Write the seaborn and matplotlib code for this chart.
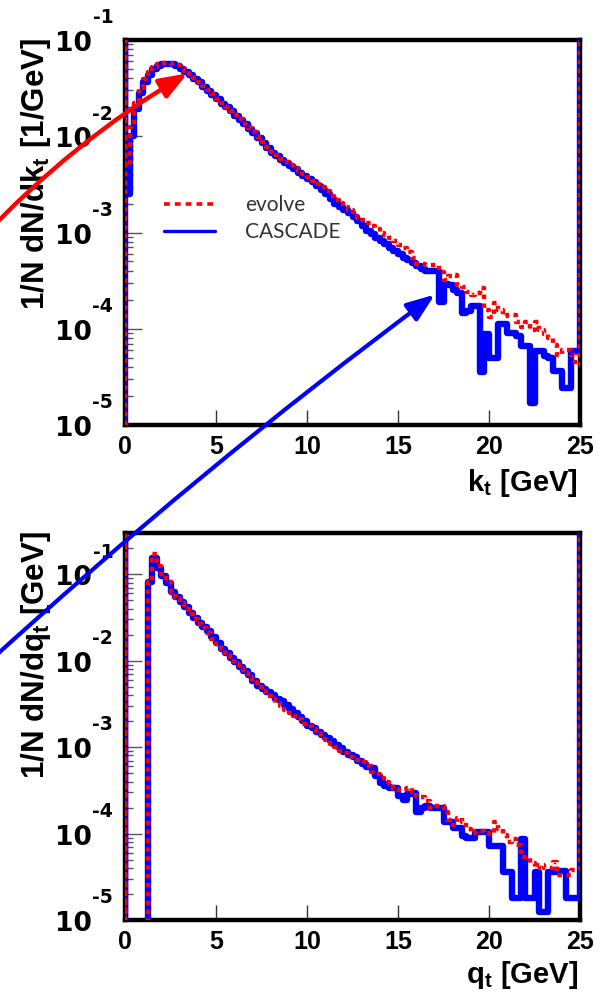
import numpy as np
import pandas as pd
import matplotlib
matplotlib.use("Agg")
import matplotlib.pyplot as plt
import seaborn as sns
from matplotlib.patches import FancyArrowPatch, ArrowStyle
from matplotlib.lines import Line2D
from matplotlib.ticker import FixedLocator, LogLocator, NullFormatter
from matplotlib.transforms import ScaledTranslation

# ---------------- data (log10 of 1/N dN/dx per 0.25 GeV bin, 0..25 GeV) ----------------
bin_width = 0.25
n_bins = 100

kt_cascade_log10 = [
    -2.60, -2.00, -1.72, -1.55, -1.44, -1.36, -1.30, -1.27, -1.25, -1.245,
    -1.25, -1.27, -1.30, -1.33, -1.36, -1.40, -1.44, -1.485, -1.53, -1.57,
    -1.615, -1.66, -1.70, -1.74, -1.785, -1.83, -1.875, -1.92, -1.97, -2.02,
    -2.07, -2.12, -2.17, -2.21, -2.245, -2.28, -2.31, -2.345, -2.38, -2.41,
    -2.44, -2.48, -2.52, -2.56, -2.60, -2.65, -2.70, -2.74, -2.77, -2.80,
    -2.84, -2.88, -2.93, -2.98, -3.02, -3.06, -3.09, -3.12, -3.16, -3.19,
    -3.22, -3.26, -3.29, -3.32, -3.35, -3.38, -3.40, -3.40, -3.40, -3.72,
    -3.53, -3.55, -3.60, -3.63, -3.84, -3.82, -3.76, -3.76, -4.45, -4.05,
    -4.30, -4.30, -3.95, -3.95, -4.04, -4.04, -4.08, -4.18, -4.18, -4.77,
    -4.23, -4.23, -4.28, -4.30, -4.44, -4.44, -4.62, -4.62, -4.23, -4.23,
]
kt_evolve_log10 = [
    -2.30, -1.90, -1.65, -1.50, -1.40, -1.33, -1.28, -1.25, -1.24, -1.24,
    -1.245, -1.26, -1.29, -1.32, -1.355, -1.395, -1.435, -1.48, -1.52, -1.565,
    -1.61, -1.65, -1.695, -1.735, -1.78, -1.82, -1.87, -1.91, -1.96, -2.01,
    -2.06, -2.11, -2.16, -2.19, -2.235, -2.265, -2.30, -2.33, -2.36, -2.39,
    -2.425, -2.46, -2.50, -2.53, -2.57, -2.62, -2.66, -2.69, -2.73, -2.77,
    -2.79, -2.85, -2.87, -2.90, -2.93, -2.96, -3.00, -3.03, -3.06, -3.09,
    -3.13, -3.16, -3.20, -3.26, -3.33, -3.33, -3.34, -3.34, -3.34, -3.41,
    -3.49, -3.45, -3.44, -3.55, -3.57, -3.62, -3.65, -3.63, -3.58, -3.80,
    -3.88, -3.73, -3.80, -3.87, -3.86, -3.86, -3.93, -3.98, -3.93, -4.01,
    -3.93, -4.01, -4.05, -4.10, -4.17, -4.27, -4.22, -4.22, -4.27, -4.38,
]
# None = empty bin
qt_cascade_log10 = [
    None, None, None, None, None, -1.085, -0.81, -0.93, -1.02, -1.10,
    -1.21, -1.26, -1.32, -1.38, -1.45, -1.51, -1.56, -1.61, -1.66, -1.73,
    -1.80, -1.86, -1.91, -1.97, -2.02, -2.07, -2.12, -2.17, -2.23, -2.29,
    -2.33, -2.36, -2.40, -2.44, -2.47, -2.51, -2.56, -2.60, -2.65, -2.70,
    -2.75, -2.78, -2.82, -2.86, -2.90, -2.93, -2.97, -3.01, -3.06, -3.09,
    -3.12, -3.16, -3.20, -3.23, -3.24, -3.33, -3.41, -3.45, -3.47, -3.47,
    -3.56, -3.61, -3.54, -3.53, -3.75, -3.70, -3.68, -3.71, -3.71, -3.71,
    -3.87, -3.87, -3.93, -3.93, -4.03, -4.05, -4.05, -3.98, -3.98, -3.98,
    -4.14, -4.14, -4.14, -4.44, -4.44, -4.74, -4.74, -4.06, -4.74, -4.74,
    -4.45, -4.91, -4.91, -4.45, -4.45, -4.43, -4.43, -4.74, -4.74, -4.74,
]
qt_evolve_log10 = [
    None, None, None, None, None, -1.085, -0.77, -0.90, -1.00, -1.09,
    -1.22, -1.28, -1.33, -1.40, -1.46, -1.52, -1.57, -1.62, -1.68, -1.75,
    -1.81, -1.87, -1.93, -1.98, -2.04, -2.09, -2.14, -2.19, -2.25, -2.30,
    -2.35, -2.41, -2.44, -2.49, -2.52, -2.57, -2.60, -2.64, -2.68, -2.73,
    -2.76, -2.79, -2.85, -2.88, -2.92, -2.96, -3.00, -3.04, -3.07, -3.11,
    -3.13, -3.15, -3.17, -3.22, -3.29, -3.31, -3.36, -3.40, -3.43, -3.49,
    -3.50, -3.48, -3.47, -3.52, -3.57, -3.58, -3.62, -3.70, -3.68, -3.68,
    -3.75, -3.84, -3.90, -3.82, -3.87, -3.95, -3.99, -3.97, -3.97, -3.99,
    -4.01, -3.87, -3.95, -4.02, -4.10, -4.06, -4.13, -4.27, -4.27, -4.34,
    -4.40, -4.36, -4.40, -4.40, -4.33, -4.48, -4.48, -4.48, -4.42, -4.42,
]

series_labels = ["evolve", "CASCADE"]
x_ticks = [0, 5, 10, 15, 20, 25]
y_exponents = [-5, -4, -3, -2, -1]
top_ylim = (1e-5, 1e-1)
bottom_ylim = (1e-5, 0.30)

RED = "#ff0000"
BLUE = "#0000ff"

# ---------------- style ----------------
sns.set_theme(style="white")
plt.rcParams["font.family"] = ["Liberation Sans", "DejaVu Sans"]
plt.rcParams["mathtext.fontset"] = "custom"
plt.rcParams["mathtext.rm"] = "Liberation Sans:bold"
plt.rcParams["mathtext.it"] = "Liberation Sans:bold"
plt.rcParams["mathtext.bf"] = "Liberation Sans:bold"
for key in ["text.color", "axes.labelcolor", "xtick.color", "ytick.color",
            "xtick.labelcolor", "ytick.labelcolor"]:
    plt.rcParams[key] = "black"

W, H = 601, 993
fig = plt.figure(figsize=(W / 100, H / 100), dpi=100)


def fx(px):
    return px / W


def fy(py):
    return 1 - py / H


ax_top = fig.add_axes([fx(125), fy(425), fx(580) - fx(125), fy(40) - fy(425)])
ax_bot = fig.add_axes([fx(125), fy(920), fx(580) - fx(125), fy(533) - fy(920)])

edges = np.arange(n_bins + 1) * bin_width


def hist_frame(log_vals, ymax):
    vals = [0.0 if v is None else 10.0 ** v for v in log_vals]
    xs = [edges[0], edges[0]] + list(edges[:-1]) + [edges[-1], edges[-1]]
    ys = [0.0, ymax] + vals + [vals[-1], ymax]
    return pd.DataFrame({"x": xs, "y": ys})


def draw_panel(ax, evolve, cascade, ylim):
    d_c = hist_frame(cascade, ylim[1])
    d_e = hist_frame(evolve, ylim[1])
    sns.lineplot(data=d_c, x="x", y="y", ax=ax, estimator=None, sort=False,
                 drawstyle="steps-post", color=BLUE, lw=4.6, zorder=3)
    sns.lineplot(data=d_e, x="x", y="y", ax=ax, estimator=None, sort=False,
                 drawstyle="steps-post", color=RED, lw=3.2,
                 linestyle=(0, (1.0, 1.0)), zorder=4)
    ax.set_yscale("log")
    ax.set_xlim(0, 25)
    ax.set_ylim(*ylim)
    ax.set_xlabel("")
    ax.set_ylabel("")
    ax.set_facecolor("white")
    for s in ["top", "bottom", "right", "left"]:
        ax.spines[s].set_visible(True)
        ax.spines[s].set_color("black")
        ax.spines[s].set_linewidth(3.2)
    ax.set_xticks(x_ticks, labels=[str(t) for t in x_ticks], fontweight="bold",
                  fontsize=18, color="black")
    ax.tick_params(axis="x", which="both", direction="in", length=11, width=1,
                   color="#333333", bottom=True, top=False, pad=7)
    ax.xaxis.set_minor_locator(FixedLocator([]))
    decades = [10.0 ** e for e in y_exponents]
    ax.set_yticks(decades, labels=["10"] * len(decades), fontweight="bold",
                  fontsize=19, fontfamily="DejaVu Sans", color="black")
    ax.yaxis.set_minor_locator(LogLocator(base=10, subs=np.arange(2, 10)))
    ax.yaxis.set_minor_formatter(NullFormatter())
    ax.tick_params(axis="y", which="major", direction="in", length=12, width=1,
                   color="#555555", left=True, right=False, pad=24)
    ax.tick_params(axis="y", which="minor", direction="in", length=6, width=1,
                   color="#555555", left=True, right=False)
    for lab in ax.get_yticklabels():
        lab.set_transform(lab.get_transform() + ScaledTranslation(0, -1 / 100, fig.dpi_scale_trans))
    for e in y_exponents:
        ax.annotate(str(e), xy=(0, 10.0 ** e), xycoords=("axes fraction", "data"),
                    xytext=(-8.5, 16), textcoords="offset points", ha="right", va="center",
                    fontsize=13.5, fontweight="bold", fontfamily="DejaVu Sans",
                    color="black", annotation_clip=False)


draw_panel(ax_top, kt_evolve_log10, kt_cascade_log10, top_ylim)
draw_panel(ax_bot, qt_evolve_log10, qt_cascade_log10, bottom_ylim)

# legend (top panel)
handles = [Line2D([], [], color=RED, lw=2.6, linestyle=(0, (1.6, 1.4))),
           Line2D([], [], color=BLUE, lw=2.4)]
leg = ax_top.legend(handles, series_labels, loc="upper left",
                    bbox_to_anchor=(0.045, 0.645), frameon=False,
                    handlelength=2.42, handletextpad=1.45, labelspacing=0.32,
                    prop={"family": "Lato", "weight": "normal", "size": 15})
for t in leg.get_texts():
    t.set_color("#333333")

# axis titles
fig.text(fx(36), fy(38), r"$\mathbf{1/N\ dN/dk_t\ [1/GeV]}$", rotation=90,
         ha="center", va="top", fontsize=22.5)
fig.text(fx(36), fy(531), r"$\mathbf{1/N\ dN/dq_t\ [GeV]}$", rotation=90,
         ha="center", va="top", fontsize=22.5)
fig.text(fx(578), fy(483), r"$\mathbf{k_t\ [GeV]}$", ha="right", va="center", fontsize=21)
fig.text(fx(578), fy(975), r"$\mathbf{q_t\ [GeV]}$", ha="right", va="center", fontsize=21)

# annotation arrows
red_arrow = FancyArrowPatch((fx(-20), fy(240)), (fx(190), fy(72)), transform=fig.transFigure,
                            connectionstyle="arc3,rad=-0.073",
                            arrowstyle=ArrowStyle("-|>", head_length=0.85, head_width=0.32),
                            mutation_scale=20, color=RED, lw=3.2, zorder=10)
blue_arrow = FancyArrowPatch((fx(-20), fy(670)), (fx(437), fy(293)), transform=fig.transFigure,
                             connectionstyle="arc3,rad=-0.026",
                             arrowstyle=ArrowStyle("-|>", head_length=0.85, head_width=0.32),
                             mutation_scale=20, color=BLUE, lw=3.0, zorder=10)
fig.add_artist(red_arrow)
fig.add_artist(blue_arrow)

fig.savefig("out.png", dpi=100, facecolor="white")
